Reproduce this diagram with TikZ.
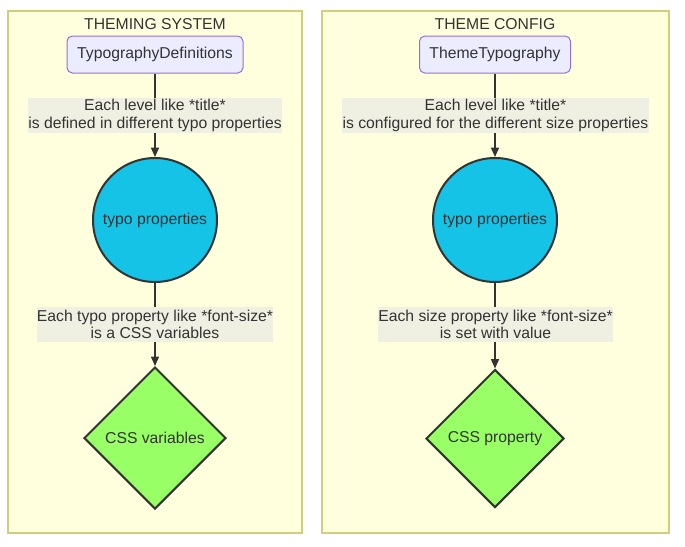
\documentclass[tikz,border=0pt]{standalone}
\usepackage{fontspec}
\setmainfont{Liberation Sans}
\usetikzlibrary{shapes.geometric,arrows.meta}
\definecolor{clfill}{HTML}{FFFFDE}
\definecolor{clline}{HTML}{CFCF7A}
\definecolor{boxfill}{HTML}{ECECFF}
\definecolor{boxline}{HTML}{9370DB}
\definecolor{ink}{HTML}{333333}
\definecolor{cyanfill}{HTML}{15C3E7}
\definecolor{greenfill}{HTML}{99FF66}
\definecolor{lblfill}{HTML}{F0F0E2}
\tikzset{
  cluster/.style={draw=clline, fill=clfill, line width=1.1pt},
  title/.style={text=ink, font=\fontsize{11.8}{14}\selectfont},
  rbox/.style={draw=boxline, fill=boxfill, rounded corners=4pt, line width=0.75pt, text=ink, font=\fontsize{11.8}{14}\selectfont, minimum height=27.75pt, inner xsep=7pt},
  circ/.style={circle, draw=ink, fill=cyanfill, line width=1.5pt, minimum size=93pt, inner sep=0pt, text=ink, font=\fontsize{11.8}{14}\selectfont},
  diam/.style={diamond, draw=ink, fill=greenfill, line width=1.5pt, minimum width=#1, minimum height=#1, inner sep=0pt, text=ink, font=\fontsize{11.8}{14}\selectfont},
  elabel/.style={fill=lblfill, text=ink, align=center, inner sep=0pt, font=\fontsize{11.8}{13}\selectfont, minimum height=26.25pt},
  conn/.style={draw=ink, line width=1.1pt, -{Triangle[length=7pt,width=6pt]}},
}
\begin{document}
\begin{tikzpicture}[x=0.75pt,y=-0.75pt]
\useasboundingbox (0,0) rectangle (685,546);
\fill[white] (0,0) rectangle (685,546);
% clusters
\draw[cluster] (8,11) rectangle (302,533);
\draw[cluster] (322,11) rectangle (669,533);
\node[title] (t1) at (155,24) {THEMING SYSTEM};
\node[title] (t2) at (495,24) {THEME CONFIG};
% left
\node[rbox, minimum width=132pt] (a1) at (155,54.5) {TypographyDefinitions};
\node[circ] (b1) at (155,220) {typo properties};
\node[diam=106.5pt] (c1) at (155,438) {CSS variables};
\draw[conn] (a1) -- (b1);
\draw[conn] (b1) -- (c1);
\node[elabel, minimum width=190.5pt] (l1) at (155,115.5) {Each level like *title*\\is defined in different typo properties};
\node[elabel, minimum width=177pt] (l2) at (155,324.5) {Each typo property like *font-size*\\is a CSS variables};
% right
\node[rbox, minimum width=113.25pt] (a2) at (495,54.5) {ThemeTypography};
\node[circ] (b2) at (495,220) {typo properties};
\node[diam=103.5pt] (c2) at (495,438.5) {CSS property};
\draw[conn] (a2) -- (b2);
\draw[conn] (b2) -- (c2);
\node[elabel, minimum width=230.25pt] (l3) at (495.5,115.5) {Each level like *title*\\is configured for the different size properties};
\node[elabel, minimum width=176.25pt] (l4) at (495.5,324.5) {Each size property like *font-size*\\is set with value};
\end{tikzpicture}
\end{document}
